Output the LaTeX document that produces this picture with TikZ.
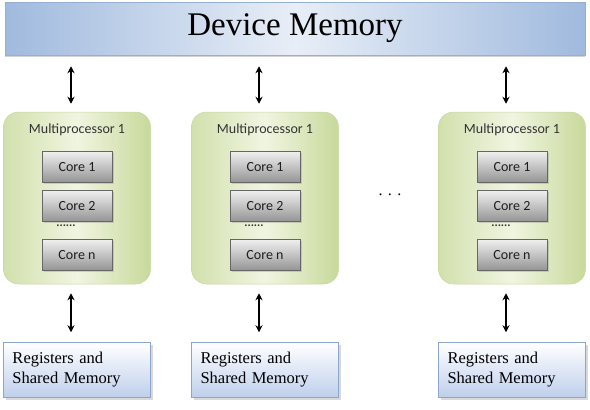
\documentclass[tikz,border=0pt]{standalone}
\usepackage{fontspec}
\setmainfont{Liberation Serif}
\newfontfamily\calibrifont{Carlito}
\usepackage{xcolor}
\definecolor{devblue}{RGB}{160, 186, 222}
\definecolor{devlight}{RGB}{232, 238, 247}
\definecolor{devline}{RGB}{150, 175, 210}
\definecolor{mpgreen}{RGB}{200, 217, 155}
\definecolor{mplight}{RGB}{240, 245, 225}
\definecolor{mpline}{RGB}{200, 214, 160}
\definecolor{regblue}{RGB}{190, 207, 236}
\definecolor{regline}{RGB}{140, 165, 205}
\definecolor{coretext}{RGB}{30, 30, 30}
\usetikzlibrary{positioning, arrows.meta, shadows}

\tikzset{
  devbar/.style={
    draw=devline,
    line width=0.5pt,
    left color=devblue,
    right color=devblue,
    middle color=devlight,
    minimum width=580pt,
    minimum height=53pt,
    inner sep=0pt,
    font=\fontsize{33}{40}\selectfont,
    drop shadow={shadow xshift=0pt, shadow yshift=-2pt, opacity=0.35}
  },
  mpbox/.style={
    draw=mpline,
    line width=0.5pt,
    rounded corners=15pt,
    left color=mpgreen!75!mplight,
    right color=mpgreen,
    middle color=mplight,
    minimum width=147pt,
    minimum height=172pt,
    inner sep=0pt
  },
  mptitle/.style={
    font=\calibrifont\fontsize{14}{16}\selectfont,
    text=black!80,
    inner sep=0pt
  },
  corebox/.style={
    draw=black!60,
    line width=0.6pt,
    top color=black!6,
    bottom color=black!42,
    minimum width=70pt,
    minimum height=31pt,
    inner sep=0pt,
    font=\calibrifont\fontsize{14}{16}\selectfont,
    text=coretext,
    drop shadow={shadow xshift=1.5pt, shadow yshift=-1.5pt, opacity=0.3}
  },
  coredots/.style={
    font=\calibrifont\bfseries\fontsize{12}{14}\selectfont,
    text=black!80,
    inner sep=0pt
  },
  regbox/.style={
    draw=regline,
    line width=0.5pt,
    top color=white,
    bottom color=regblue,
    minimum width=147pt,
    minimum height=55pt,
    text width=129pt,
    align=left,
    inner sep=0pt,
    font=\fontsize{16.5}{20}\selectfont,
    drop shadow={shadow xshift=2pt, shadow yshift=-2pt, opacity=0.3}
  },
  link/.style={
    black,
    line width=1.1pt,
    {Stealth[length=7pt,width=7pt]}-{Stealth[length=7pt,width=7pt]}
  }
}

\begin{document}
\begin{tikzpicture}[x=1pt, y=-1pt]
  \useasboundingbox (0,0) rectangle (590,410);

  \node[devbar] (dev) at (295,28.5) {Device Memory};

  \foreach \i/\x in {1/77, 2/265, 3/512}{
    \node[mpbox] (mp\i) at (\x,198) {};
    \node[mptitle] (title\i) at ([yshift=-18pt]mp\i.north) {Multiprocessor 1};
    \node[corebox] (core\i-1) at (\x,167) {Core 1};
    \node[corebox] (core\i-2) at (\x,206) {Core 2};
    \node[coredots] (dots\i) at (\x-11,226) {......};
    \node[corebox] (core\i-n) at (\x,255) {Core n};
    \node[regbox] (reg\i) at (\x,370) {Registers and\\Shared Memory};

    \coordinate (top\i) at ([xshift=-6pt]mp\i.north);
    \coordinate (bot\i) at ([xshift=-6pt]mp\i.south);
    \draw[link, shorten <=11pt, shorten >=8pt] (top\i |- dev.south) -- (top\i);
    \draw[link, shorten <=9pt, shorten >=10pt] (bot\i) -- (bot\i |- reg\i.north);
  }

  \node[font=\fontsize{16}{18}\selectfont, inner sep=0pt] (gap) at (390,195) {.\,\,.\,\,.};
\end{tikzpicture}
\end{document}
